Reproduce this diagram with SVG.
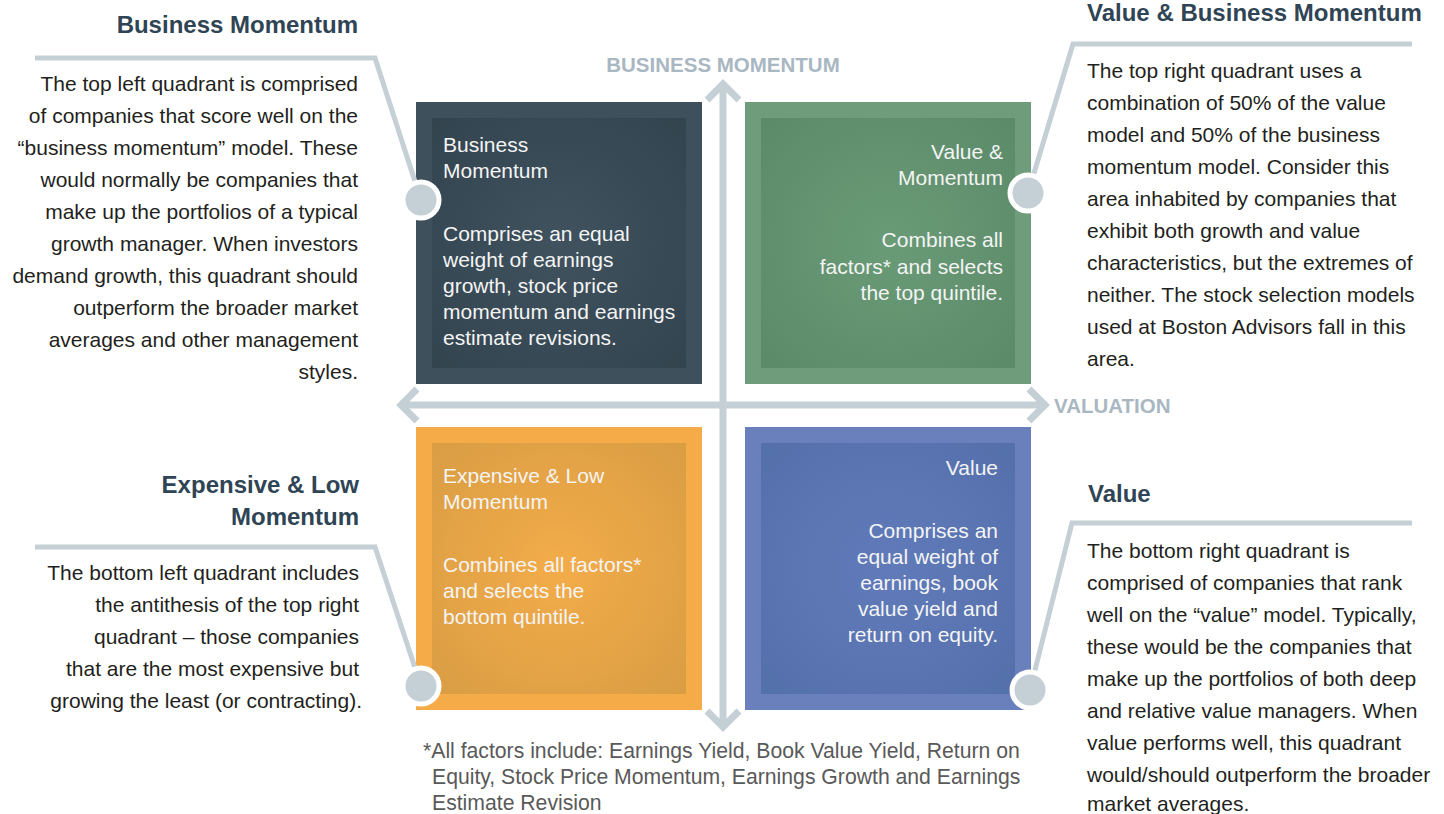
<svg xmlns="http://www.w3.org/2000/svg" width="1444" height="814" viewBox="0 0 1444 814">
  <style>
    .heading { font-family: "Liberation Sans", Arial, sans-serif; font-weight: bold; font-size: 24px; fill: #2f4454; }
    .body { font-family: "Liberation Sans", Arial, sans-serif; font-size: 21px; fill: #231f20; }
    .boxtext { font-family: "Liberation Sans", Arial, sans-serif; font-size: 21px; fill: #f4f4f4; }
    .axislabel { font-family: "Liberation Sans", Arial, sans-serif; font-weight: bold; font-size: 20.5px; fill: #a9b7c2; }
    .note { font-family: "Liberation Sans", Arial, sans-serif; font-size: 21.2px; fill: #595959; }
    .axis { fill: none; stroke: #c5cfd6; stroke-width: 7; }
    .callout { fill: none; stroke: #c5cfd6; stroke-width: 5; stroke-linejoin: miter; }
    .dot { fill: #c5cfd6; stroke: #ffffff; stroke-width: 5; }
  </style>
  <defs>
    <radialGradient id="gSlate" cx="0.5" cy="0.5" r="0.7">
      <stop offset="0" stop-color="#3f525e"/>
      <stop offset="1" stop-color="#33444f"/>
    </radialGradient>
    <radialGradient id="gGreen" cx="0.5" cy="0.5" r="0.7">
      <stop offset="0" stop-color="#6a9b77"/>
      <stop offset="1" stop-color="#5b8a68"/>
    </radialGradient>
    <radialGradient id="gOrange" cx="0.5" cy="0.5" r="0.7">
      <stop offset="0" stop-color="#f3ac49"/>
      <stop offset="1" stop-color="#d99d44"/>
    </radialGradient>
    <radialGradient id="gBlue" cx="0.5" cy="0.5" r="0.7">
      <stop offset="0" stop-color="#617bba"/>
      <stop offset="1" stop-color="#5470ab"/>
    </radialGradient>
  </defs>

  <rect width="1444" height="814" fill="#ffffff"/>

  <!-- quadrant boxes -->
  <g id="quad-business-momentum">
    <rect x="416" y="102" width="286" height="282" fill="#3e505b"/>
    <rect x="432" y="118" width="254" height="250" fill="url(#gSlate)"/>
    <text class="boxtext" x="443" y="152">Business</text>
    <text class="boxtext" x="443" y="178">Momentum</text>
    <text class="boxtext" x="443" y="241">Comprises an equal</text>
    <text class="boxtext" x="443" y="267">weight of earnings</text>
    <text class="boxtext" x="443" y="293">growth, stock price</text>
    <text class="boxtext" x="443" y="319">momentum and earnings</text>
    <text class="boxtext" x="443" y="345">estimate revisions.</text>
  </g>

  <g id="quad-value-momentum">
    <rect x="745" y="102" width="286" height="282" fill="#6f9c7a"/>
    <rect x="761" y="118" width="254" height="250" fill="url(#gGreen)"/>
    <g text-anchor="end">
      <text class="boxtext" x="1003" y="159">Value &amp;</text>
      <text class="boxtext" x="1003" y="185">Momentum</text>
      <text class="boxtext" x="1003" y="247">Combines all</text>
      <text class="boxtext" x="1003" y="274">factors* and selects</text>
      <text class="boxtext" x="1003" y="300">the top quintile.</text>
    </g>
  </g>

  <g id="quad-expensive-low">
    <rect x="416" y="427" width="286" height="283" fill="#f5ac48"/>
    <rect x="432" y="443" width="254" height="251" fill="url(#gOrange)"/>
    <text class="boxtext" x="443" y="483">Expensive &amp; Low</text>
    <text class="boxtext" x="443" y="509">Momentum</text>
    <text class="boxtext" x="443" y="572">Combines all factors*</text>
    <text class="boxtext" x="443" y="598">and selects the</text>
    <text class="boxtext" x="443" y="624">bottom quintile.</text>
  </g>

  <g id="quad-value">
    <rect x="745" y="427" width="286" height="283" fill="#6a80bd"/>
    <rect x="761" y="443" width="254" height="251" fill="url(#gBlue)"/>
    <g text-anchor="end">
      <text class="boxtext" x="998" y="475">Value</text>
      <text class="boxtext" x="998" y="538">Comprises an</text>
      <text class="boxtext" x="998" y="564">equal weight of</text>
      <text class="boxtext" x="998" y="590">earnings, book</text>
      <text class="boxtext" x="998" y="616">value yield and</text>
      <text class="boxtext" x="998" y="642">return on equity.</text>
    </g>
  </g>

  <!-- axes and callout connectors -->
  <g id="connectors">
    <line class="axis" x1="723" y1="85" x2="723" y2="725"/>
    <polyline class="axis" points="707,100 723,84 739,100"/>
    <polyline class="axis" points="707,711 723,727 739,711"/>
    <line class="axis" x1="403" y1="405" x2="1043" y2="405"/>
    <polyline class="axis" points="417,389 401,405 417,421"/>
    <polyline class="axis" points="1029,389 1045,405 1029,421"/>

    <polyline class="callout" points="35,58 375,58 421,200"/>
    <polyline class="callout" points="1412,44 1073,44 1028,193"/>
    <polyline class="callout" points="35,547 375,547 421,686"/>
    <polyline class="callout" points="1412,523 1072,523 1030,690"/>

    <circle class="dot" cx="421" cy="200" r="18"/>
    <circle class="dot" cx="1028" cy="193" r="18"/>
    <circle class="dot" cx="421" cy="686" r="18"/>
    <circle class="dot" cx="1030" cy="690" r="18"/>
  </g>

  <!-- axis labels -->
  <g id="axis-labels">
    <text class="axislabel" x="723" y="72" text-anchor="middle">BUSINESS MOMENTUM</text>
    <text class="axislabel" x="1054" y="413">VALUATION</text>
  </g>

  <!-- description: top left -->
  <g id="desc-business-momentum" text-anchor="end">
    <text class="heading" x="358" y="33">Business Momentum</text>
    <text class="body" x="358" y="91">The top left quadrant is comprised</text>
    <text class="body" x="358" y="123">of companies that score well on the</text>
    <text class="body" x="358" y="155">“business momentum” model. These</text>
    <text class="body" x="358" y="187">would normally be companies that</text>
    <text class="body" x="358" y="219">make up the portfolios of a typical</text>
    <text class="body" x="358" y="251">growth manager. When investors</text>
    <text class="body" x="358" y="283">demand growth, this quadrant should</text>
    <text class="body" x="358" y="315">outperform the broader market</text>
    <text class="body" x="358" y="347">averages and other management</text>
    <text class="body" x="358" y="379">styles.</text>
  </g>

  <!-- description: top right -->
  <g id="desc-value-momentum">
    <text class="heading" x="1087" y="21">Value &amp; Business Momentum</text>
    <text class="body" x="1087" y="78">The top right quadrant uses a</text>
    <text class="body" x="1087" y="110">combination of 50% of the value</text>
    <text class="body" x="1087" y="142">model and 50% of the business</text>
    <text class="body" x="1087" y="174">momentum model. Consider this</text>
    <text class="body" x="1087" y="206">area inhabited by companies that</text>
    <text class="body" x="1087" y="238">exhibit both growth and value</text>
    <text class="body" x="1087" y="270">characteristics, but the extremes of</text>
    <text class="body" x="1087" y="302">neither. The stock selection models</text>
    <text class="body" x="1087" y="334">used at Boston Advisors fall in this</text>
    <text class="body" x="1087" y="366">area.</text>
  </g>

  <!-- description: bottom left -->
  <g id="desc-expensive-low" text-anchor="end">
    <text class="heading" x="359" y="493">Expensive &amp; Low</text>
    <text class="heading" x="359" y="525">Momentum</text>
    <text class="body" x="359" y="580">The bottom left quadrant includes</text>
    <text class="body" x="359" y="612">the antithesis of the top right</text>
    <text class="body" x="359" y="644">quadrant – those companies</text>
    <text class="body" x="359" y="676">that are the most expensive but</text>
    <text class="body" x="362" y="708">growing the least (or contracting).</text>
  </g>

  <!-- description: bottom right -->
  <g id="desc-value">
    <text class="heading" x="1088" y="502">Value</text>
    <text class="body" x="1087" y="558">The bottom right quadrant is</text>
    <text class="body" x="1087" y="590">comprised of companies that rank</text>
    <text class="body" x="1087" y="622">well on the “value” model. Typically,</text>
    <text class="body" x="1087" y="654">these would be the companies that</text>
    <text class="body" x="1087" y="686">make up the portfolios of both deep</text>
    <text class="body" x="1087" y="718">and relative value managers. When</text>
    <text class="body" x="1087" y="750">value performs well, this quadrant</text>
    <text class="body" x="1087" y="782">would/should outperform the broader</text>
    <text class="body" x="1087" y="811">market averages.</text>
  </g>

  <!-- footnote -->
  <g id="footnote">
    <text class="note" x="423" y="758">*All factors include: Earnings Yield, Book Value Yield, Return on</text>
    <text class="note" x="432" y="784">Equity, Stock Price Momentum, Earnings Growth and Earnings</text>
    <text class="note" x="432" y="810">Estimate Revision</text>
  </g>
</svg>
